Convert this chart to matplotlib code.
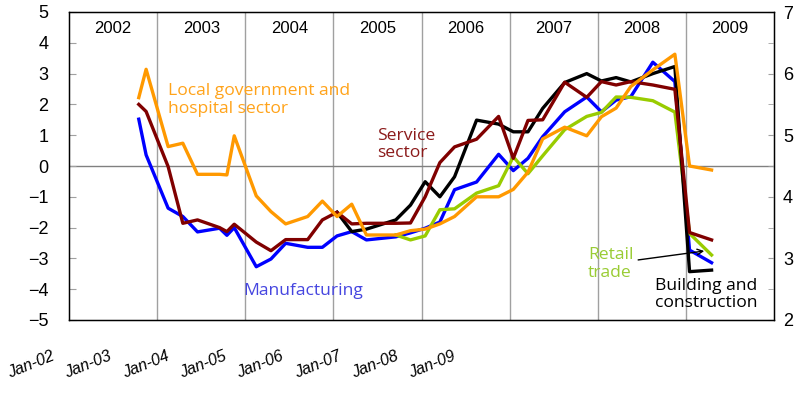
import matplotlib.pyplot as plt
import numpy as np

# survey rounds (year-month) and the indicator for each sector
rounds = ['2002-10', '2002-11', '2003-02', '2003-04', '2003-06', '2003-09', '2003-10', '2003-11',
          '2004-02', '2004-04', '2004-06', '2004-09', '2004-11',
          '2005-01', '2005-03', '2005-05', '2005-09', '2005-11',
          '2006-01', '2006-03', '2006-05', '2006-08', '2006-11',
          '2007-01', '2007-03', '2007-05', '2007-08', '2007-11',
          '2008-01', '2008-03', '2008-05', '2008-08', '2008-11',
          '2009-01', '2009-04']

local_gov = [2.22, 3.14, 0.63, 0.74, -0.27, -0.27, -0.29, 0.98,
             -0.97, -1.48, -1.88, -1.64, -1.14,
             -1.64, -1.24, -2.24, -2.24, -2.10,
             -2.05, -1.88, -1.64, -1.00, -1.00,
             -0.76, -0.20, 0.88, 1.26, 0.98,
             1.60, 1.88, 2.58, 3.12, 3.63,
             0.00, -0.13]

manufacturing = [1.52, 0.36, -1.37, -1.64, -2.14, -2.02, -2.25, -2.00,
                 -3.27, -3.02, -2.51, -2.64, -2.64,
                 -2.27, -2.13, -2.40, -2.30, -2.17,
                 -2.02, -1.82, -0.77, -0.52, 0.38,
                 -0.15, 0.25, 0.95, 1.76, 2.24,
                 1.76, 2.14, 2.25, 3.37, 2.74,
                 -2.73, -3.14]

service = [2.00, 1.77, -0.02, -1.86, -1.75, -2.00, -2.13, -1.89,
           -2.47, -2.75, -2.39, -2.39, -1.75,
           -1.50, -1.88, -1.86, -1.86, -1.85,
           -1.00, 0.11, 0.62, 0.87, 1.61,
           0.25, 1.48, 1.50, 2.72, 2.23,
           2.74, 2.63, 2.74, 2.63, 2.49,
           -2.16, -2.40]

construction = [None, None, None, None, None, None, None, None,
                None, None, None, None, None,
                -1.50, -2.13, -2.05, -1.75, -1.27,
                -0.51, -1.00, -0.35, 1.49, 1.36,
                1.11, 1.11, 1.87, 2.71, 3.00,
                2.76, 2.87, 2.73, 3.00, 3.23,
                -3.43, -3.38]

retail = [None, None, None, None, None, None, None, None,
          None, None, None, None, None,
          None, None, None, -2.24, -2.40,
          -2.27, -1.42, -1.39, -0.88, -0.64,
          0.30, -0.25, 0.33, 1.18, 1.61,
          1.74, 2.24, 2.23, 2.12, 1.75,
          -2.19, -2.89]

years = [2002, 2003, 2004, 2005, 2006, 2007, 2008, 2009]
jan_labels = ['Jan-02', 'Jan-03', 'Jan-04', 'Jan-05', 'Jan-06', 'Jan-07', 'Jan-08', 'Jan-09']


def to_month(s):
    y, m = s.split('-')
    # months since Jan 2002, placed mid-month
    return (int(y) - 2002) * 12 + int(m) - 1 + 0.5


def arr(vals):
    return np.array([np.nan if v is None else v for v in vals], dtype=float)


x = np.array([to_month(r) for r in rounds])

plt.rcParams['font.family'] = ['Liberation Sans', 'DejaVu Sans']
fig = plt.figure(figsize=(7.98, 4.03), dpi=100)
ax = fig.add_axes([69 / 798, 1 - 320 / 403, 705 / 798, 308 / 403])

grey = '#a0a0a0'
n_months = len(years) * 12
for k in range(1, len(years)):
    ax.axvline(k * 12, color=grey, lw=1, zorder=1)
ax.axhline(0, color='#808080', lw=1, zorder=1)
for k, yr in enumerate(years):
    ax.text(k * 12 + 6, 0.948, str(yr), transform=ax.get_xaxis_transform(),
            ha='center', va='center', fontsize=12)

lw = 2.4
ax.plot(x, arr(manufacturing), color='#0000ff', lw=lw, zorder=3)
ax.plot(x, arr(retail), color='#99cc00', lw=lw, zorder=4)
ax.plot(x, arr(construction), color='#000000', lw=lw, zorder=5)
ax.plot(x, arr(service), color='#800000', lw=lw, zorder=6)
ax.plot(x, arr(local_gov), color='#ff9900', lw=lw, zorder=7)

ax.set_xlim(0, n_months)
ax.set_ylim(-5, 5)
ax.set_yticks(range(-5, 6))
ax.set_xticks([])
ax.tick_params(axis='y', direction='in', length=5, color=grey, pad=15, labelsize=13)
for sp in ax.spines.values():
    sp.set_linewidth(1)

ax2 = ax.twinx()
ax2.set_ylim(2, 7)
ax2.set_yticks(range(2, 8))
ax2.set_yticks(np.arange(2.5, 7, 1), minor=True)
ax2.tick_params(axis='y', which='both', direction='in', length=4, color=grey, pad=6.5, labelsize=13)

afont = ['Open Sans', 'DejaVu Sans']
fs = 12.6
ax.text(13.5, 2.14, 'Local government and\nhospital sector', color='#ffa31a',
        fontsize=fs, family=afont, ha='left', va='center', linespacing=1.1)
ax.text(41.95, 0.71, 'Service\nsector', color='#8b1a1a',
        fontsize=fs, family=afont, ha='left', va='center', linespacing=1.1)
ax.text(23.7, -4.06, 'Manufacturing', color='#4646e0',
        fontsize=fs, family=afont, ha='left', va='center')
ax.text(70.7, -3.18, 'Retail\ntrade', color='#99cc33',
        fontsize=fs, family=afont, ha='left', va='center', linespacing=1.1)
ax.text(79.8, -4.17, 'Building and\nconstruction', color='#000000',
        fontsize=fs, family=afont, ha='left', va='center', linespacing=1.1)
ax.annotate('', xy=(86.5, -2.76), xytext=(77.5, -3.05),
            arrowprops=dict(arrowstyle='->', color='black', lw=1, shrinkA=0, shrinkB=0))

# separate category axis for the Jan-xx labels
lab = fig.add_axes([51 / 798, 1 - 349 / 403, 401 / 798, 0.001])
lab.set_xlim(0, len(jan_labels) - 1)
lab.set_xticks(range(len(jan_labels)))
lab.set_xticklabels(jan_labels, rotation=22, ha='right', rotation_mode='anchor',
                    fontsize=11.5, style='italic')
lab.tick_params(axis='x', length=0, pad=0)
lab.set_yticks([])
for sp in lab.spines.values():
    sp.set_visible(False)
lab.patch.set_alpha(0)

fig.savefig('out.png', dpi=100)
